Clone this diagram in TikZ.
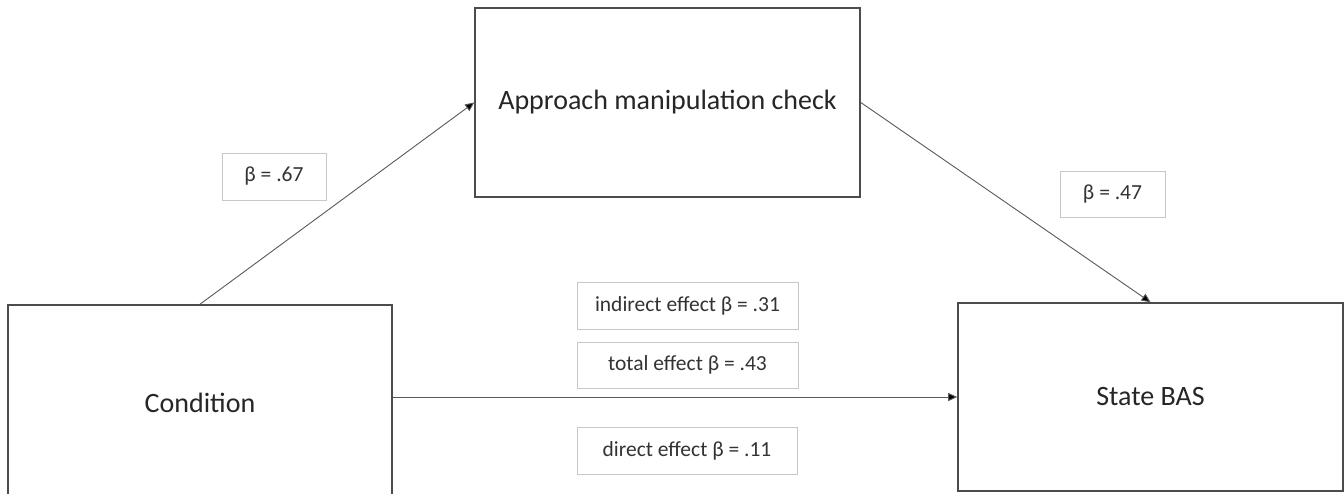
\documentclass[tikz,border=0pt]{standalone}
\usepackage{fontspec}
\setmainfont{Carlito}
\usetikzlibrary{arrows.meta}
\begin{document}
\begin{tikzpicture}[x=1pt,y=-1pt,
  varbox/.style={draw=black!70, line width=1.6pt, fill=white, inner sep=0pt,
    font=\fontsize{28}{33}\selectfont, text=black!85},
  coefbox/.style={draw=black!22, line width=0.8pt, fill=white, inner sep=0pt,
    font=\fontsize{21.5}{26}\selectfont, text=black!80},
  path/.style={draw=black!65, line width=0.9pt,
    -{Triangle[length=9pt,width=8pt,fill=black]}}]
\clip (0,0) rectangle (1344,493);

% variables
\node[varbox, minimum width=385pt, minimum height=189pt] (mc) at (667.5,102.5) {Approach manipulation check};
\node[varbox, minimum width=384pt, minimum height=196pt] (cond) at (200,403) {Condition};
\node[varbox, minimum width=385pt, minimum height=188pt] (bas) at (1150.5,397) {State BAS};

% coefficients
\node[coefbox, minimum width=104pt, minimum height=47pt] (a) at (274,176.5) {β = .67};
\node[coefbox, minimum width=105pt, minimum height=46pt] (b) at (1112.5,194) {β = .47};
\node[coefbox, minimum width=221pt, minimum height=47pt] (ind) at (687.5,305.5) {indirect effect β = .31};
\node[coefbox, minimum width=221pt, minimum height=46pt] (tot) at (687.5,365) {total effect β = .43};
\node[coefbox, minimum width=220pt, minimum height=47pt] (dir) at (687,450.5) {direct effect β = .11};

% paths
\draw[path] (cond.north) -- (mc.west);
\draw[path] (mc.east) -- (bas.north);
\draw[path] (bas.west -| cond.east) -- (bas.west);
\end{tikzpicture}
\end{document}
